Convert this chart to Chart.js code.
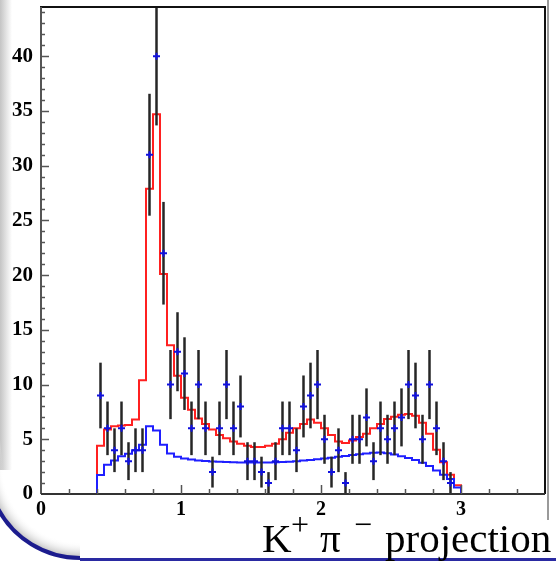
<!DOCTYPE html>
<html>
<head>
<meta charset="utf-8">
<script src="https://cdn.jsdelivr.net/npm/chart.js@4.4.1/dist/chart.umd.min.js"></script>
<style>
  html, body { margin: 0; padding: 0; background: #fff; }
  #wrap { width: 556px; height: 561px; }
</style>
</head>
<body>
<div id="wrap"><canvas id="chart" width="556" height="561"></canvas></div>
<script>
// K+ pi- projection, bins of 0.05 from 0.40 to 3.00
const binWidth = 0.05;
const binStart = 0.40;
const xMin = 0, xMax = 3.6;
const yMin = 0, yMax = 44.5;

// events per bin (data points)
const counts = [9, 6, 4, 6, 3, 4, 4, 31, 40, 22,
  10, 13, 11, 6, 10, 6, 2, 6, 10, 6,
  8, 3, 3, 2, 1, 3, 6, 6, 4, 8,
  9, 10, 5, 2, 4, 1, 5, 5, 7, 3,
  6, 5, 6, 7, 10, 9, 5, 10, 6, 3,
  1, 0];

// error bar half lengths
const errors = [3.00, 2.45, 2.00, 2.45, 1.73, 2.00, 2.00, 5.57, 6.32, 4.69,
  3.16, 3.61, 3.32, 2.45, 3.16, 2.45, 1.41, 2.45, 3.16, 2.45,
  2.83, 1.73, 1.73, 1.41, 1.00, 1.73, 2.45, 2.45, 2.00, 2.83,
  3.00, 3.16, 2.24, 1.41, 2.00, 1.00, 2.24, 2.24, 2.65, 1.73,
  2.45, 2.24, 2.45, 2.65, 3.16, 3.00, 2.24, 3.16, 2.45, 1.73,
  1.00, 0];

// total fit (red histogram)
const fitTotal = [4.4, 5.9, 6.2, 6.25, 6.3, 6.8, 10.4, 27.9, 34.7, 20.1,
  13.6, 10.8, 8.8, 7.7, 6.9, 6.4, 5.9, 5.4, 5.1, 4.8,
  4.6, 4.4, 4.3, 4.3, 4.4, 4.6, 5.0, 5.6, 6.0, 6.4,
  6.8, 6.5, 6.0, 5.4, 4.8, 4.65, 4.9, 5.2, 5.5, 6.0,
  6.4, 6.85, 7.05, 7.25, 7.3, 7.15, 6.5, 5.5, 4.05, 2.9,
  1.76, 0.8];

// background component (blue histogram)
const fitBkg = [1.74, 2.68, 3.07, 3.44, 3.68, 4.0, 4.5, 6.2, 5.8, 4.5,
  3.7, 3.4, 3.25, 3.15, 3.07, 3.02, 2.97, 2.94, 2.92, 2.9,
  2.88, 2.87, 2.87, 2.87, 2.88, 2.9, 2.92, 2.95, 3.0, 3.05,
  3.1, 3.17, 3.25, 3.32, 3.4, 3.48, 3.56, 3.63, 3.7, 3.76,
  3.8, 3.72, 3.62, 3.45, 3.28, 3.1, 2.85, 2.55, 2.15, 1.77,
  1.37, 0.6];

const xTickLabels = ['0', '1', '2', '3'];

const binLow = counts.map((_, i) => +(binStart + i * binWidth).toFixed(3));

// step outline: flat at 0 outside the filled range
function histPoints(vals) {
    const pts = [{x: xMin, y: 0}];
    vals.forEach((v, i) => pts.push({x: binLow[i], y: v}));
    pts.push({x: +(binStart + vals.length * binWidth).toFixed(3), y: 0});
    pts.push({x: xMax, y: 0});
    return pts;
}

const dataPoints = [];
counts.forEach((n, i) => {
    if (n > 0) dataPoints.push({x: binLow[i] + binWidth / 2, y: n});
});

const serif = '"Liberation Serif", "Times New Roman", serif';

// page decoration: grey band on the left and the blue rounded corner
const decoration = {
    id: 'decoration',
    beforeDraw(chart) {
        const ctx = chart.ctx;
        ctx.save();
        ctx.fillStyle = '#fff';
        ctx.fillRect(0, 0, chart.width, chart.height);

        let g = ctx.createLinearGradient(0, 0, 12, 0);
        g.addColorStop(0, '#c4c4c4');
        g.addColorStop(0.5, '#e2e2e2');
        g.addColorStop(1, '#ffffff');
        ctx.fillStyle = g;
        ctx.fillRect(0, 0, 12, 470);

        // shadow inside the corner
        const cx = 80, cy = 465, r = 93;
        const rg = ctx.createRadialGradient(cx, cy, r - 16, cx, cy, r);
        rg.addColorStop(0, 'rgba(255,255,255,0)');
        rg.addColorStop(1, '#b8b8b8');
        ctx.fillStyle = rg;
        ctx.beginPath();
        ctx.moveTo(0, 440);
        ctx.lineTo(0, 515);
        ctx.arc(cx, cy, r, Math.PI * 0.83, Math.PI * 0.5, true);
        ctx.lineTo(cx, cy + r - 16);
        ctx.arc(cx, cy, r - 16, Math.PI * 0.5, Math.PI * 0.95, false);
        ctx.closePath();
        ctx.fill();

        ctx.strokeStyle = '#1c1c8e';
        ctx.lineWidth = 4;
        ctx.beginPath();
        ctx.arc(cx, cy, r, Math.PI * 0.85, Math.PI * 0.5, true);
        ctx.stroke();
        ctx.strokeStyle = '#2a2aa2';
        ctx.lineWidth = 3;
        ctx.beginPath();
        ctx.moveTo(cx, 559.5);
        ctx.lineTo(chart.width, 559.5);
        ctx.stroke();

        // right side page edge
        ctx.strokeStyle = '#9a9a9a';
        ctx.lineWidth = 2;
        ctx.beginPath();
        ctx.moveTo(548, 0);
        ctx.lineTo(548, 520);
        ctx.stroke();
        ctx.restore();
    }
};

// poisson error bars under the blue markers
const errorBars = {
    id: 'errorBars',
    beforeDatasetDraw(chart, args) {
        if (chart.data.datasets[args.index].label !== 'Data') return;
        const {ctx, chartArea, scales: {x, y}} = chart;
        ctx.save();
        ctx.beginPath();
        ctx.rect(chartArea.left, chartArea.top - 1, chartArea.width, chartArea.height + 1);
        ctx.clip();
        ctx.strokeStyle = '#262626';
        ctx.lineWidth = 2.5;
        counts.forEach((n, i) => {
            if (!n) return;
            const px = x.getPixelForValue(binLow[i] + binWidth / 2);
            ctx.beginPath();
            ctx.moveTo(px, y.getPixelForValue(n - errors[i]));
            ctx.lineTo(px, y.getPixelForValue(n + errors[i]));
            ctx.stroke();
        });
        ctx.restore();
    }
};

// ROOT style frame with ticks pointing inward, plus the axis title
const frame = {
    id: 'frame',
    afterDraw(chart) {
        const {ctx, chartArea: a, scales: {x, y}} = chart;
        ctx.save();
        ctx.lineCap = 'butt';
        ctx.strokeStyle = '#111';
        ctx.lineWidth = 2;
        ctx.beginPath();
        ctx.moveTo(a.left - 1, a.top);
        ctx.lineTo(a.right, a.top);
        ctx.lineTo(a.right, a.bottom);
        ctx.stroke();
        ctx.strokeStyle = '#555';
        ctx.beginPath();
        ctx.moveTo(a.left, a.top);
        ctx.lineTo(a.left, a.bottom);
        ctx.stroke();
        ctx.strokeStyle = '#333';
        ctx.beginPath();
        ctx.moveTo(a.left, a.bottom);
        ctx.lineTo(a.right, a.bottom);
        ctx.stroke();

        ctx.lineWidth = 1.5;
        ctx.strokeStyle = '#555';
        for (let v = 1; v <= 44; v++) {
            const py = Math.round(y.getPixelForValue(v)) + 0.5;
            const len = v % 5 === 0 ? 8 : 4;
            ctx.beginPath();
            ctx.moveTo(a.left, py);
            ctx.lineTo(a.left + len, py);
            ctx.stroke();
        }
        for (let k = 1; k <= 17; k++) {
            const px = Math.round(x.getPixelForValue(k * 0.2)) + 0.5;
            const len = k % 5 === 0 ? 9 : 5;
            ctx.beginPath();
            ctx.moveTo(px, a.bottom);
            ctx.lineTo(px, a.bottom - len);
            ctx.stroke();
        }

        // axis title  K+ pi- projection
        const base = 552;
        ctx.fillStyle = '#000';
        ctx.textBaseline = 'alphabetic';
        ctx.textAlign = 'left';
        ctx.font = '41px ' + serif;
        ctx.fillText('K', 262, base);
        ctx.fillText('\u03c0', 320, base);
        ctx.fillText('projection', 385, base);
        ctx.font = '32px ' + serif;
        ctx.fillText('+', 291, base - 17);
        ctx.fillText('\u2212', 354, base - 17);
        ctx.restore();
    }
};

new Chart(document.getElementById('chart'), {
    type: 'scatter',
    data: {
        datasets: [
            {
                label: 'Data',
                data: dataPoints,
                showLine: false,
                pointStyle: 'cross',
                pointRadius: 3.5,
                pointBorderWidth: 2,
                pointBorderColor: '#1010e0',
                pointBackgroundColor: '#1010e0',
                order: 0
            },
            {
                label: 'Background',
                data: histPoints(fitBkg),
                showLine: true,
                stepped: 'before',
                borderColor: '#1f1fff',
                borderWidth: 2,
                pointRadius: 0,
                fill: false,
                order: 1
            },
            {
                label: 'Total fit',
                data: histPoints(fitTotal),
                showLine: true,
                stepped: 'before',
                borderColor: '#ff2020',
                borderWidth: 2,
                pointRadius: 0,
                fill: false,
                order: 2
            }
        ]
    },
    options: {
        responsive: false,
        animation: false,
        devicePixelRatio: 1,
        layout: { padding: { top: 7, right: 11, left: 0, bottom: 0 } },
        plugins: {
            legend: { display: false },
            tooltip: { enabled: false }
        },
        scales: {
            x: {
                type: 'linear',
                min: xMin,
                max: xMax,
                grid: { display: false, drawTicks: false },
                border: { display: false },
                ticks: {
                    stepSize: 1,
                    includeBounds: false,
                    padding: 4,
                    color: '#000',
                    font: { family: serif, size: 20, weight: 'bold' },
                    maxRotation: 0,
                    callback: v => xTickLabels[v] ?? ''
                },
                afterFit: s => {
                    s.height = 67;
                    s.paddingLeft = 0;
                    s.paddingRight = 0;
                }
            },
            y: {
                type: 'linear',
                min: yMin,
                max: yMax,
                grid: { display: false, drawTicks: false },
                border: { display: false },
                ticks: {
                    stepSize: 5,
                    includeBounds: false,
                    padding: 8,
                    color: '#000',
                    font: { family: serif, size: 21, weight: 'bold' }
                },
                afterFit: s => {
                    s.width = 41;
                    s.paddingTop = 0;
                    s.paddingBottom = 0;
                }
            }
        }
    },
    plugins: [decoration, errorBars, frame]
});
</script>
</body>
</html>
